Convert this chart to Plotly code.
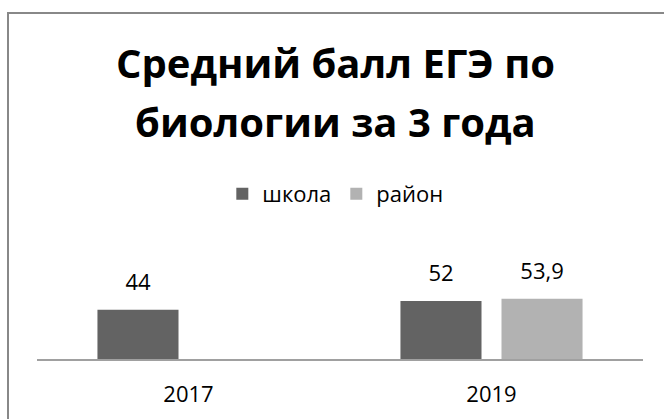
import plotly.graph_objects as go

categories = ["2017", "2019"]
school = [44, 52]
district = [None, 53.9]
series_names = ["школа", "район"]
colors = ["#636363", "#b2b2b2"]
title_lines = ["Средний балл ЕГЭ по", "биологии за 3 года"]

W, H = 664, 419
ML, MR, MT, MB = 37, 21, 292, 60
PH = H - MT - MB
PW = W - ML - MR


def py(ypx):
    return (H - MB - ypx) / PH


fig = go.Figure()
for name, vals, col in zip(series_names, [school, district], colors):
    fig.add_trace(go.Bar(
        x=categories, y=vals, name=name, marker_color=col,
        marker_line_width=0, offsetgroup=name,
    ))
# data labels
for name, vals in zip(series_names, [school, district]):
    fig.add_trace(go.Scatter(
        x=categories, y=vals, mode="text+markers", offsetgroup=name,
        marker=dict(size=21, opacity=0), text=vals,
        texttemplate="%{y}", textposition="top center",
        textfont=dict(family="Open Sans", size=22, color="#000000"),
        showlegend=False, hoverinfo="skip", cliponaxis=False,
    ))

annotations = []
for line, center_px in zip(title_lines, [62, 121]):
    annotations.append(dict(
        text=line, xref="paper", yref="paper",
        x=(335 - ML) / PW, y=py(center_px), xanchor="center", yanchor="middle",
        showarrow=False,
        font=dict(family="Open Sans", size=40, color="#000000", weight="bold"),
    ))

fig.update_layout(
    width=W, height=H,
    margin=dict(l=ML, r=MR, t=MT, b=MB, pad=0, autoexpand=False),
    paper_bgcolor="white", plot_bgcolor="white",
    separators=", ",
    barmode="group", scattermode="group",
    bargap=0.333, bargroupgap=0.198,
    font=dict(family="Open Sans", color="#000000"),
    annotations=annotations,
    legend=dict(orientation="h", xref="container", yref="container",
                x=0.505, xanchor="center", y=1 - 194 / H, yanchor="middle",
                font=dict(family="Open Sans", size=22, color="#000000"),
                itemwidth=30, tracegroupgap=0, bgcolor="rgba(0,0,0,0)"),
    showlegend=True,
    xaxis=dict(showgrid=False, zeroline=False, showline=True, linecolor="#a0a0a0",
               linewidth=2, ticks="", automargin=False,
               tickfont=dict(family="Open Sans", size=22, color="#000000"),
               ticklabelstandoff=15),
    yaxis=dict(range=[0, 60], visible=False, showgrid=False, zeroline=False, automargin=False),
    shapes=[dict(type="rect", xref="paper", yref="paper",
                 x0=(8 - ML) / PW, x1=(W + 20 - ML) / PW,
                 y0=-(MB + 20) / PH, y1=py(13),
                 line=dict(color="#888888", width=2), fillcolor="rgba(0,0,0,0)", layer="below")],
)

fig.write_html("out.html", config={"displayModeBar": False},
               post_script="document.body.style.margin='0';document.body.style.overflow='hidden';")
